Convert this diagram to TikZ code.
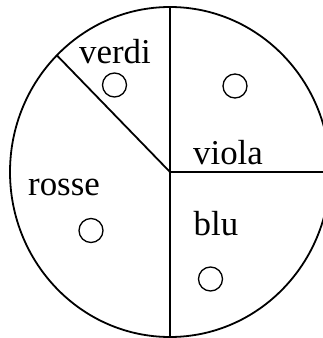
\documentclass[tikz,border=0pt]{standalone}
\usepackage{fontspec}
\setmainfont{Liberation Serif}
\usetikzlibrary{calc}
\begin{document}
\begin{tikzpicture}[x=1bp,y=1bp,
  lbl/.style={anchor=base,inner sep=0pt,font=\fontsize{35}{40}\selectfont},
  dot/.style={circle,draw,line width=1.3bp,minimum size=24bp,inner sep=0pt},
  edge/.style={line width=1.8bp}]
\useasboundingbox (0,0) rectangle (323,338);
\coordinate (c) at (170,166);
\coordinate (top) at (170,331);
\coordinate (bot) at (170,-10);
\coordinate (rt) at (335,166);
\coordinate (nw) at ($(c)+(135:160 and 165)$);
\draw[edge] (c) ellipse [x radius=160, y radius=165];
\draw[edge] (top) -- (bot);
\draw[edge] (c) -- (rt);
\draw[edge] (c) -- (nw);
\node[lbl] (verdi) at (115,275) {verdi};
\node[lbl] (viola) at (228,174) {viola};
\node[lbl] (rosse) at (64,143) {rosse};
\node[lbl] (blu) at (216,103) {blu};
\node[dot] (d1) at (114.5,253) {};
\node[dot] (d2) at (235,252) {};
\node[dot] (d3) at (91,107.5) {};
\node[dot] (d4) at (210.5,59) {};
\end{tikzpicture}
\end{document}
